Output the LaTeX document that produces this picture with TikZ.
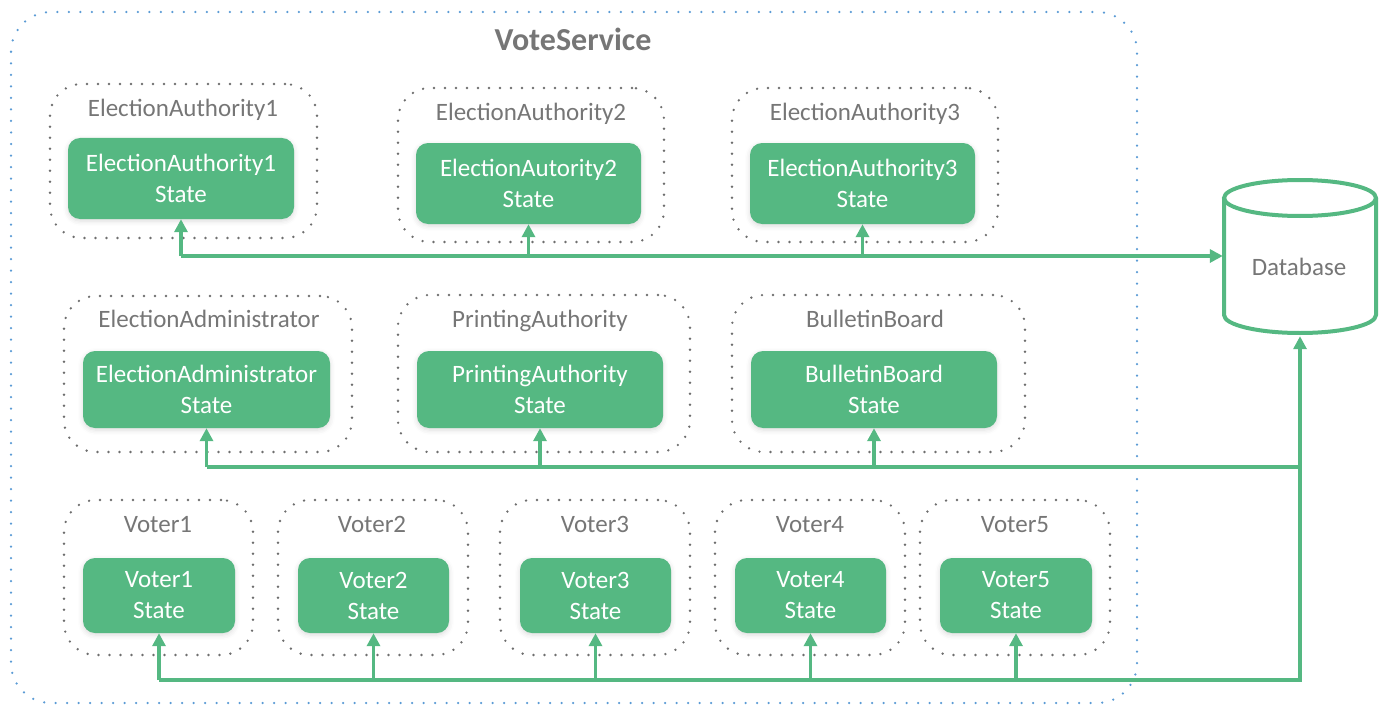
\documentclass[tikz,border=0pt]{standalone}
\usepackage{fontspec}
\setmainfont{Carlito}
\usetikzlibrary{arrows.meta,shadows.blur}
\definecolor{vgreen}{HTML}{55B882}
\definecolor{vgray}{HTML}{767676}
\definecolor{dotgray}{HTML}{6E6E6E}
\definecolor{vblue}{HTML}{5B9BD5}
\begin{document}
\begin{tikzpicture}[x=1pt,y=-1pt,
 statebox/.style={fill=vgreen, rounded corners=12pt, text=white, align=center, font=\fontsize{25}{31}\selectfont, inner sep=0pt,
   blur shadow={shadow xshift=0pt, shadow yshift=-2pt, shadow blur radius=5pt, shadow opacity=14}},
 container/.style={draw=dotgray, line width=2.6pt, dash pattern=on 0pt off 11pt, line cap=round, rounded corners=32pt, inner sep=0pt},
 clabel/.style={text=vgray, font=\fontsize{25}{30}\selectfont, inner sep=0pt, anchor=base},
 conn/.style={draw=vgreen, line width=3.5pt},
 tip/.style={-{Triangle[length=13pt,width=13pt]}}
]
\useasboundingbox (0,0) rectangle (1386,706);

% outer VoteService frame
\draw[draw=vblue, line width=2.5pt, dash pattern=on 0pt off 11.5pt, line cap=round, rounded corners=40pt]
  (11,12) rectangle (1137,703);
\node[text=vgray, font=\fontsize{32}{38}\selectfont\bfseries, inner sep=0pt, anchor=base] (title) at (573,51) {VoteService};

% containers
\node[container, minimum width=267pt, minimum height=154pt] (c1) at (183.5,161) {};
\node[container, minimum width=266pt, minimum height=154pt] (c2) at (531,165) {};
\node[container, minimum width=266pt, minimum height=154pt] (c3) at (865,165) {};
\node[container, minimum width=288pt, minimum height=156pt] (c4) at (208,374) {};
\node[container, minimum width=292pt, minimum height=157pt] (c5) at (544,373.5) {};
\node[container, minimum width=293pt, minimum height=157pt] (c6) at (878.5,373.5) {};
\node[container, minimum width=189pt, minimum height=155pt] (cv1) at (158.5,577.5) {};
\node[container, minimum width=190pt, minimum height=155pt] (cv2) at (373,577.5) {};
\node[container, minimum width=190pt, minimum height=155pt] (cv3) at (595,577.5) {};
\node[container, minimum width=190pt, minimum height=155pt] (cv4) at (810,577.5) {};
\node[container, minimum width=190pt, minimum height=155pt] (cv5) at (1015,577.5) {};

% container labels
\node[clabel] (l1) at (183,117) {ElectionAuthority1};
\node[clabel] (l2) at (531,121) {ElectionAuthority2};
\node[clabel] (l3) at (865,121) {ElectionAuthority3};
\node[clabel] (l4) at (209,327) {ElectionAdministrator};
\node[clabel] (l5) at (540,327) {PrintingAuthority};
\node[clabel] (l6) at (875,327) {BulletinBoard};
\node[clabel] (lv1) at (158,532) {Voter1};
\node[clabel] (lv2) at (372,532) {Voter2};
\node[clabel] (lv3) at (595,532) {Voter3};
\node[clabel] (lv4) at (810,532) {Voter4};
\node[clabel] (lv5) at (1015,532) {Voter5};

% state boxes
\node[statebox, minimum width=226pt, minimum height=81pt] (g1) at (181,178.5) {ElectionAuthority1\\State};
\node[statebox, minimum width=225pt, minimum height=81pt] (g2) at (528.5,183.5) {ElectionAutority2\\State};
\node[statebox, minimum width=225pt, minimum height=81pt] (g3) at (862.5,183.5) {ElectionAuthority3\\State};
\node[statebox, minimum width=247pt, minimum height=77pt] (g4) at (206.5,389.5) {ElectionAdministrator\\State};
\node[statebox, minimum width=246pt, minimum height=77pt] (g5) at (540,389.5) {PrintingAuthority\\State};
\node[statebox, minimum width=246pt, minimum height=77pt] (g6) at (874,389.5) {BulletinBoard\\State};
\node[statebox, minimum width=152pt, minimum height=75pt] (v1) at (159,595.5) {Voter1\\State};
\node[statebox, minimum width=151pt, minimum height=75pt] (v2) at (373.5,595.5) {Voter2\\State};
\node[statebox, minimum width=151pt, minimum height=75pt] (v3) at (595.5,595.5) {Voter3\\State};
\node[statebox, minimum width=151pt, minimum height=75pt] (v4) at (810.5,595.5) {Voter4\\State};
\node[statebox, minimum width=152pt, minimum height=75pt] (v5) at (1016,595.5) {Voter5\\State};

% database
\draw[draw=vgreen, line width=4pt, fill=white] (1224,198) -- (1224,315)
  arc[start angle=180, end angle=360, x radius=76pt, y radius=18pt] -- (1376,198);
\draw[draw=vgreen, line width=4pt] (1300,198) ellipse [x radius=76pt, y radius=18pt];
\node[minimum width=154pt, minimum height=156pt, inner sep=0pt] (db) at (1300,258) {};
\node[clabel] (dbt) at (1299,275) {Database};

% bus coordinates
\coordinate (r1) at (0,256);
\coordinate (r2) at (0,467);
\coordinate (r3) at (0,680);

% row 1
\draw[conn, tip] (g1.south |- r1) -- (db.west |- r1);
\draw[conn, tip] (g1.south |- r1) -- (g1.south);
\draw[conn, tip] (g2.south |- r1) -- (g2.south);
\draw[conn, tip] (g3.south |- r1) -- (g3.south);

% row 2
\draw[conn] (g4.south |- r2) -- (db.south |- r2);
\draw[conn, tip] (g4.south |- r2) -- (g4.south);
\draw[conn, tip] (g5.south |- r2) -- (g5.south);
\draw[conn, tip] (g6.south |- r2) -- (g6.south);

% row 3
\draw[conn, tip] (v1.south |- r3) -- (db.south |- r3) -- (db.south);
\draw[conn, tip] (v1.south |- r3) -- (v1.south);
\draw[conn, tip] (v2.south |- r3) -- (v2.south);
\draw[conn, tip] (v3.south |- r3) -- (v3.south);
\draw[conn, tip] (v4.south |- r3) -- (v4.south);
\draw[conn, tip] (v5.south |- r3) -- (v5.south);
\end{tikzpicture}
\end{document}
